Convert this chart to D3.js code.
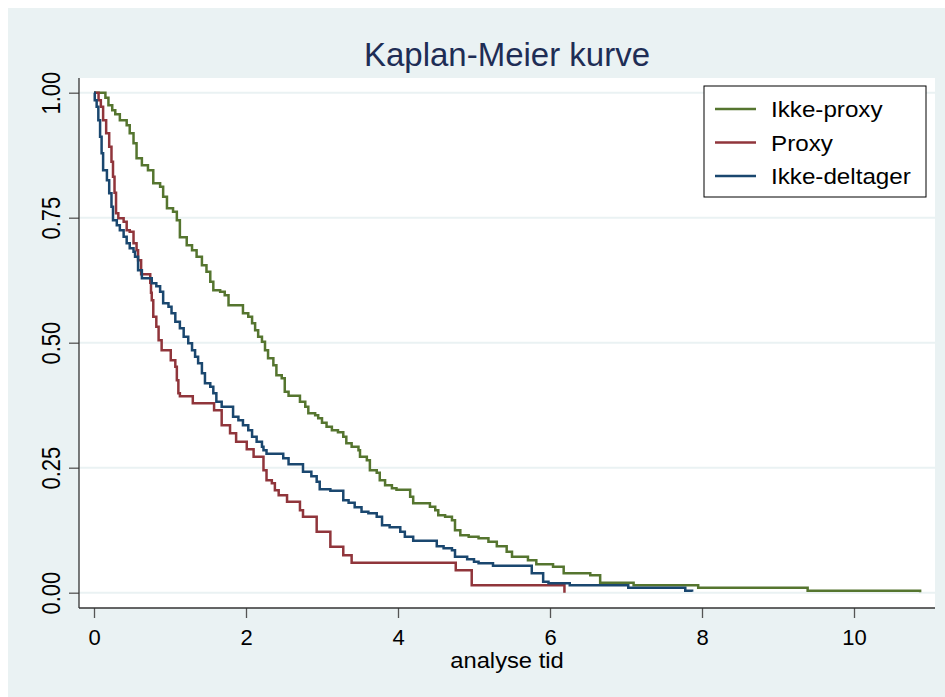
<!doctype html>
<html>
<head>
<meta charset="utf-8">
<title>Kaplan-Meier kurve</title>
<style>
  body { margin: 0; background: #fff; }
  text { font-family: "Liberation Sans", Arial, Helvetica, sans-serif; }
</style>
</head>
<body>
<svg width="945" height="697"></svg>
<script src="https://d3js.org/d3.v7.min.js"></script>
<script>
// series names and colours (Stata s2color)
const seriesNames = ["Ikke-proxy", "Proxy", "Ikke-deltager"];
const seriesColors = ["#55752F", "#90353B", "#1A476F"];

// survival steps: [analyse tid, S(t)]
const ikkeProxy = [
  [0,1],[0.11,1],[0.15,0.99],[0.19,0.975],[0.24,0.965],[0.28,0.957],[0.34,0.945],[0.43,0.935],
  [0.47,0.919],[0.52,0.899],[0.56,0.869],[0.63,0.855],[0.71,0.845],[0.78,0.819],[0.87,0.812],
  [0.91,0.792],[0.96,0.769],[1.04,0.762],[1.09,0.745],[1.13,0.711],[1.22,0.695],[1.29,0.685],
  [1.35,0.672],[1.42,0.655],[1.48,0.642],[1.53,0.622],[1.57,0.605],[1.66,0.602],[1.72,0.595],
  [1.77,0.575],[1.96,0.559],[2.03,0.552],[2.08,0.539],[2.12,0.525],[2.16,0.512],[2.21,0.502],
  [2.25,0.485],[2.29,0.469],[2.36,0.455],[2.40,0.435],[2.47,0.429],[2.51,0.402],[2.56,0.394],
  [2.71,0.382],[2.78,0.372],[2.82,0.359],[2.91,0.355],[2.95,0.349],[3.0,0.34],[3.06,0.332],
  [3.13,0.325],[3.21,0.321],[3.28,0.312],[3.32,0.299],[3.39,0.292],[3.48,0.285],[3.50,0.272],
  [3.59,0.265],[3.63,0.245],[3.72,0.24],[3.76,0.225],[3.83,0.215],[3.92,0.209],[3.98,0.206],
  [4.16,0.192],[4.20,0.179],[4.42,0.172],[4.49,0.165],[4.53,0.155],[4.62,0.152],[4.71,0.145],
  [4.75,0.125],[4.82,0.115],[4.93,0.112],[5.06,0.109],[5.19,0.102],[5.30,0.093],[5.43,0.082],
  [5.50,0.072],[5.71,0.065],[5.82,0.057],[6.04,0.052],[6.18,0.039],[6.53,0.035],[6.66,0.02],
  [7.10,0.015],[7.95,0.01],[9.39,0.004],[10.87,0.001]
];
const proxy = [
  [0,1],[0.04,1],[0.06,0.985],[0.09,0.972],[0.12,0.945],[0.16,0.919],[0.20,0.892],[0.23,0.862],
  [0.25,0.832],[0.27,0.80],[0.29,0.759],[0.32,0.749],[0.39,0.742],[0.43,0.725],[0.47,0.722],
  [0.52,0.699],[0.56,0.685],[0.58,0.665],[0.62,0.637],[0.74,0.62],[0.75,0.6],[0.76,0.585],
  [0.78,0.552],[0.82,0.532],[0.85,0.505],[0.89,0.485],[1.01,0.465],[1.07,0.452],[1.09,0.425],
  [1.11,0.399],[1.13,0.393],[1.30,0.379],[1.58,0.365],[1.68,0.335],[1.79,0.319],[1.87,0.302],
  [2.01,0.287],[2.10,0.272],[2.23,0.245],[2.27,0.225],[2.34,0.219],[2.38,0.205],[2.43,0.195],
  [2.54,0.182],[2.71,0.165],[2.75,0.152],[2.93,0.122],[3.11,0.092],[3.28,0.075],[3.39,0.06],
  [4.76,0.045],[4.97,0.015],[6.19,0]
];
const ikkeDeltager = [
  [0,1],[0.01,0.985],[0.035,0.972],[0.057,0.945],[0.08,0.912],[0.10,0.879],[0.12,0.845],
  [0.17,0.825],[0.20,0.799],[0.23,0.772],[0.25,0.745],[0.30,0.735],[0.34,0.725],[0.39,0.712],
  [0.43,0.699],[0.47,0.689],[0.52,0.682],[0.54,0.672],[0.58,0.645],[0.63,0.629],[0.76,0.619],
  [0.82,0.613],[0.87,0.602],[0.91,0.579],[0.98,0.572],[1.02,0.559],[1.07,0.542],[1.13,0.529],
  [1.18,0.512],[1.24,0.499],[1.29,0.485],[1.33,0.472],[1.37,0.459],[1.42,0.439],[1.46,0.419],
  [1.53,0.412],[1.57,0.399],[1.61,0.382],[1.68,0.372],[1.83,0.352],[1.90,0.345],[1.96,0.335],
  [2.03,0.325],[2.08,0.312],[2.14,0.302],[2.21,0.292],[2.23,0.285],[2.27,0.278],[2.49,0.269],
  [2.56,0.257],[2.75,0.242],[2.86,0.233],[2.93,0.222],[2.97,0.207],[3.11,0.204],[3.28,0.185],
  [3.35,0.18],[3.43,0.171],[3.52,0.162],[3.61,0.159],[3.72,0.152],[3.79,0.135],[3.89,0.131],
  [4.03,0.122],[4.09,0.112],[4.20,0.104],[4.51,0.093],[4.60,0.089],[4.71,0.085],[4.75,0.072],
  [4.91,0.067],[5.0,0.062],[5.06,0.059],[5.25,0.054],[5.76,0.039],[5.91,0.022],[5.98,0.019],
  [6.26,0.015],[7.03,0.01],[7.78,0.004],[7.87,0.002]
];
const allSeries = [ikkeProxy, proxy, ikkeDeltager];

const xTicks = [0, 2, 4, 6, 8, 10];
const yTicks = [0, 0.25, 0.5, 0.75, 1];

const titleText = "Kaplan-Meier kurve";
const xTitle = "analyse tid";

// layout
const plot = {left: 79, right: 935, top: 78, bottom: 608};

const svg = d3.select("svg");

// outer graph region
svg.append("rect")
  .attr("x", 8).attr("y", 8)
  .attr("width", 937).attr("height", 689)
  .attr("fill", "#EAF2F3");

// plot region
svg.append("rect")
  .attr("x", plot.left).attr("y", plot.top)
  .attr("width", plot.right - plot.left).attr("height", plot.bottom - plot.top)
  .attr("fill", "#fff");

const x = d3.scaleLinear().domain([0, 10]).range([94, 854]);
const y = d3.scaleLinear().domain([0, 1]).range([592.7, 92.7]);

// grid lines
svg.append("g")
  .selectAll("line")
  .data(yTicks)
  .enter()
  .append("line")
    .attr("x1", plot.left).attr("x2", plot.right)
    .attr("y1", d => y(d)).attr("y2", d => y(d))
    .attr("stroke", "#EAF2F3")
    .attr("stroke-width", 2);

// x axis
const xAxis = svg.append("g")
  .attr("transform", "translate(0," + plot.bottom + ")")
  .call(d3.axisBottom(x).tickValues(xTicks).tickSize(10).tickFormat(d3.format("d")));
xAxis.select(".domain").remove();
xAxis.selectAll(".tick line").attr("stroke", "#555").attr("stroke-width", 1.3);
xAxis.selectAll(".tick text")
  .attr("y", 37).attr("dy", 0)
  .attr("font-size", "22px")
  .attr("fill", "#000")
  .attr("font-family", "Liberation Sans, Arial, sans-serif");

// y axis (labels rotated, a bit wider like the original)
const yAxis = svg.append("g")
  .attr("transform", "translate(" + plot.left + ",0)")
  .call(d3.axisLeft(y).tickValues(yTicks).tickSize(10).tickFormat(d3.format(".2f")));
yAxis.select(".domain").remove();
yAxis.selectAll(".tick line").attr("stroke", "#555").attr("stroke-width", 1.3);
yAxis.selectAll(".tick text")
  .attr("transform", "scale(1.15,1) rotate(-90)")
  .attr("x", 0).attr("y", -16.5).attr("dy", 0)
  .attr("text-anchor", "middle")
  .attr("font-size", "22px")
  .attr("fill", "#000")
  .attr("font-family", "Liberation Sans, Arial, sans-serif");

// axis lines
svg.append("line")
  .attr("x1", plot.left).attr("x2", plot.left)
  .attr("y1", plot.top).attr("y2", plot.bottom)
  .attr("stroke", "#333").attr("stroke-width", 1.3);
svg.append("line")
  .attr("x1", plot.left).attr("x2", plot.right)
  .attr("y1", plot.bottom).attr("y2", plot.bottom)
  .attr("stroke", "#333").attr("stroke-width", 1.3);

// curves
const line = d3.line()
  .x(d => x(d[0]))
  .y(d => y(d[1]))
  .curve(d3.curveStepAfter);

svg.append("g")
  .selectAll("path")
  .data(allSeries)
  .enter()
  .append("path")
    .attr("d", line)
    .attr("fill", "none")
    .attr("stroke", (d, i) => seriesColors[i])
    .attr("stroke-width", 2.5)
    .attr("stroke-linejoin", "miter");

// title
svg.append("text")
  .attr("x", (plot.left + plot.right) / 2)
  .attr("y", 66)
  .attr("text-anchor", "middle")
  .attr("font-size", "33px")
  .attr("fill", "#1E2D55")
  .text(titleText);

// x title
svg.append("text")
  .attr("transform", "translate(" + ((plot.left + plot.right) / 2) + ",668) scale(1.08,1)")
  .attr("text-anchor", "middle")
  .attr("font-size", "22px")
  .attr("fill", "#000")
  .text(xTitle);

// legend
const legend = svg.append("g");
legend.append("rect")
  .attr("x", 704).attr("y", 86)
  .attr("width", 222).attr("height", 111)
  .attr("fill", "#fff")
  .attr("stroke", "#000")
  .attr("stroke-width", 1);

const rowY = [109, 142.5, 176];
const items = legend.selectAll("g.item")
  .data(seriesNames)
  .enter()
  .append("g")
    .attr("class", "item")
    .attr("transform", (d, i) => "translate(0," + rowY[i] + ")");
items.append("line")
  .attr("x1", 715).attr("x2", 756)
  .attr("y1", 0).attr("y2", 0)
  .attr("stroke", (d, i) => seriesColors[i])
  .attr("stroke-width", 2.6);
items.append("text")
  .attr("transform", "translate(771,8) scale(1.1,1)")
  .attr("font-size", "22px")
  .attr("fill", "#000")
  .text(d => d);
</script>
</body>
</html>
